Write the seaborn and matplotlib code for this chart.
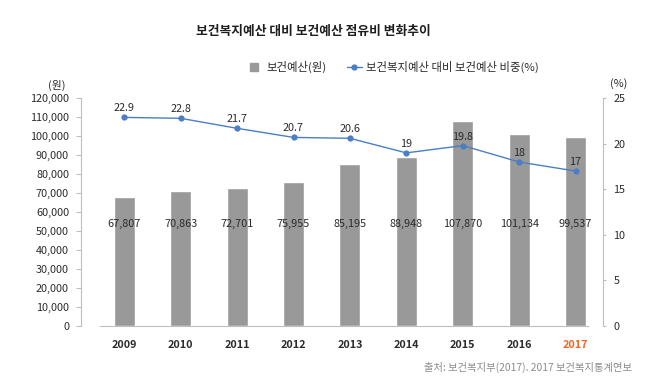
import numpy as np
import matplotlib
matplotlib.use("Agg")
import matplotlib.pyplot as plt
import matplotlib.transforms as mtransforms
from matplotlib.lines import Line2D
import seaborn as sns

# data
years = ["2009", "2010", "2011", "2012", "2013", "2014", "2015", "2016", "2017"]
health_budget = [67807, 70863, 72701, 75955, 85195, 88948, 107870, 101134, 99537]  # 보건예산(원)
share_pct = [22.9, 22.8, 21.7, 20.7, 20.6, 19, 19.8, 18, 17]  # 보건복지예산 대비 보건예산 비중(%)
share_labels = ["22.9", "22.8", "21.7", "20.7", "20.6", "19", "19.8", "18", "17"]

sns.set_theme(style="white")
plt.rcParams["font.family"] = ["Noto Sans CJK KR", "DejaVu Sans"]

bar_color = "#999999"
line_color = "#4a7ec6"
text_color = "#2b2b2b"
axis_color = "#bfbfbf"

fig = plt.figure(figsize=(6.59, 3.77), dpi=100)
ax = fig.add_axes([100 / 659, 51.3 / 377, 488 / 659, 227.4 / 377])

x = np.arange(len(years))
sns.barplot(x=x, y=health_budget, color=bar_color, width=0.37, saturation=1, ax=ax, native_scale=True)
ax.set_xlim(-0.43, 8.22)
ax.set_ylim(0, 120000)
ax.set_yticks(np.arange(0, 120001, 10000))
ax.set_yticklabels([f"{v:,}" for v in range(0, 120001, 10000)])
ax.set_xticks(x)
ax.set_xticklabels(years, fontweight="bold")
ax.set_xlabel("")
ax.set_ylabel("")

for s in ["top", "right"]:
    ax.spines[s].set_visible(False)
ax.spines["left"].set_position(("outward", 13.7))
for s in ["left", "bottom"]:
    ax.spines[s].set_color(axis_color)
    ax.spines[s].set_linewidth(0.8)
ax.tick_params(axis="y", which="both", left=True, length=3.6, width=0.8, color=axis_color,
               pad=5, labelsize=7.8, labelcolor=text_color)
ax.tick_params(axis="x", bottom=False, pad=4, labelsize=7.8, labelcolor=text_color)
ax.get_xticklabels()[-1].set_color("#f26522")

# bar value labels at a fixed height
trans = mtransforms.blended_transform_factory(ax.transData, ax.transAxes)
for xi, v in zip(x, health_budget):
    ax.text(xi, 0.446, f"{v:,}", transform=trans, ha="center", va="center",
            fontsize=7.8, color=text_color)

# line on secondary axis
ax2 = ax.twinx()
sns.lineplot(x=x, y=share_pct, ax=ax2, color=line_color, linewidth=1.0,
             marker="o", markersize=4.5, markeredgewidth=0, markerfacecolor=line_color)
ax2.set_ylim(0, 25)
ax2.set_yticks(np.arange(0, 26, 5))
ax2.set_ylabel("")
for s in ["top", "left", "bottom"]:
    ax2.spines[s].set_visible(False)
ax2.spines["right"].set_position(("outward", 10.8))
ax2.spines["right"].set_color(axis_color)
ax2.spines["right"].set_linewidth(0.8)
ax2.tick_params(axis="y", right=True, length=2.5, width=0.8, color=axis_color,
                pad=5, labelsize=7.8, labelcolor=text_color)

for xi, v, lab in zip(x, share_pct, share_labels):
    ax2.annotate(lab, (xi, v), xytext=(0, 6.5), textcoords="offset points",
                 ha="center", va="center", fontsize=7.8, color=text_color)

# title, units, legend, source
fig.text(313 / 659, 1 - 31.6 / 377, "보건복지예산 대비 보건예산 점유비 변화추이",
         ha="center", va="center", fontsize=9.2, fontweight="bold", color="#1e1e1e")
fig.text(57 / 659, 1 - 85 / 377, "(원)", ha="center", va="center", fontsize=7.8, color=text_color)
fig.text(619 / 659, 1 - 83.3 / 377, "(%)", ha="center", va="center", fontsize=7.8, color=text_color)

handles = [
    Line2D([], [], linestyle="none", marker="s", markersize=5.5, color=bar_color),
    Line2D([], [], color=line_color, linewidth=1.0, marker="o", markersize=4.5, markeredgewidth=0),
]
fig.legend(handles, ["보건예산(원)", "보건복지예산 대비 보건예산 비중(%)"],
           loc="center", bbox_to_anchor=(393 / 659, 1 - 66.7 / 377), ncol=2, frameon=False,
           fontsize=8.2, handlelength=1.3, handletextpad=0.4, columnspacing=1.8,
           labelcolor=text_color)

fig.text(632 / 659, 1 - 367.4 / 377, "출처: 보건복지부(2017). 2017 보건복지통계연보",
         ha="right", va="center", fontsize=7.4, color="#8c8c8c")

fig.savefig("out.png", dpi=100)
